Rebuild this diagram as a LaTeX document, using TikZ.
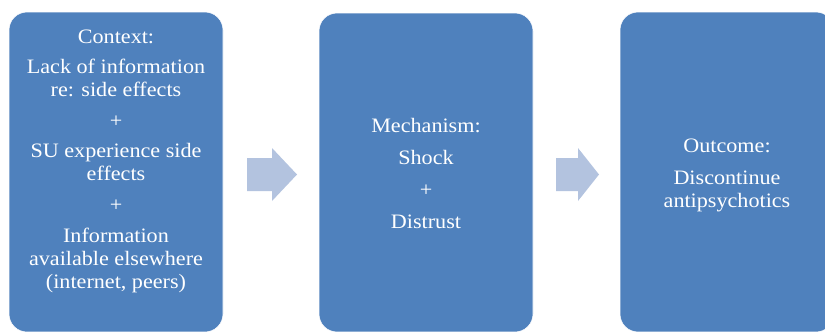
\documentclass[tikz,border=0pt]{standalone}
\usepackage{fontspec}
\setmainfont{Liberation Serif}[FakeStretch=1.08]
\definecolor{boxblue}{HTML}{4F81BD}
\definecolor{arrowblue}{HTML}{B3C3DF}
\begin{document}
\begin{tikzpicture}[x=1pt,y=-1pt,
  stage/.style={draw=white, line width=0.6pt, fill=boxblue, rounded corners=18pt,
    minimum width=214pt, inner sep=0pt, outer sep=0pt},
  stagetext/.style={text=white, align=center, inner sep=0pt, anchor=base,
    font=\fontsize{20.5pt}{23pt}\selectfont},
  blockarrow/.style={fill=arrowblue, draw=none}]
  \useasboundingbox (0,0) rectangle (825,332);

  % stage boxes
  \node[stage, minimum height=320pt] (context)   at (116,172)   {};
  \node[stage, minimum height=319pt] (mechanism) at (426,172.5) {};
  \node[stage, minimum height=320pt] (outcome)   at (727,172)   {};

  % box texts, each placed by the baseline of its last line
  \node[stagetext] (contexttext) at (116,288)
    {Context:\\[7.6pt]Lack of information\\re: side effects\\[7.6pt]+\\[7.6pt]SU experience side\\effects\\[7.6pt]+\\[7.6pt]Information\\available elsewhere\\(internet, peers)};
  \node[stagetext] (mechanismtext) at (426,228)
    {Mechanism:\\[8.7pt]Shock\\[8.7pt]+\\[8.7pt]Distrust};
  \node[stagetext] (outcometext) at (727,207)
    {Outcome:\\[9pt]Discontinue\\antipsychotics};

  % block arrows between the stages
  \fill[blockarrow] (247,158) -- (272,158) -- (272,148) -- (297,174.5)
    -- (272,201) -- (272,191) -- (247,191) -- cycle;
  \fill[blockarrow] (556,158) -- (578,158) -- (578,148) -- (599,174.5)
    -- (578,201) -- (578,191) -- (556,191) -- cycle;
\end{tikzpicture}
\end{document}
